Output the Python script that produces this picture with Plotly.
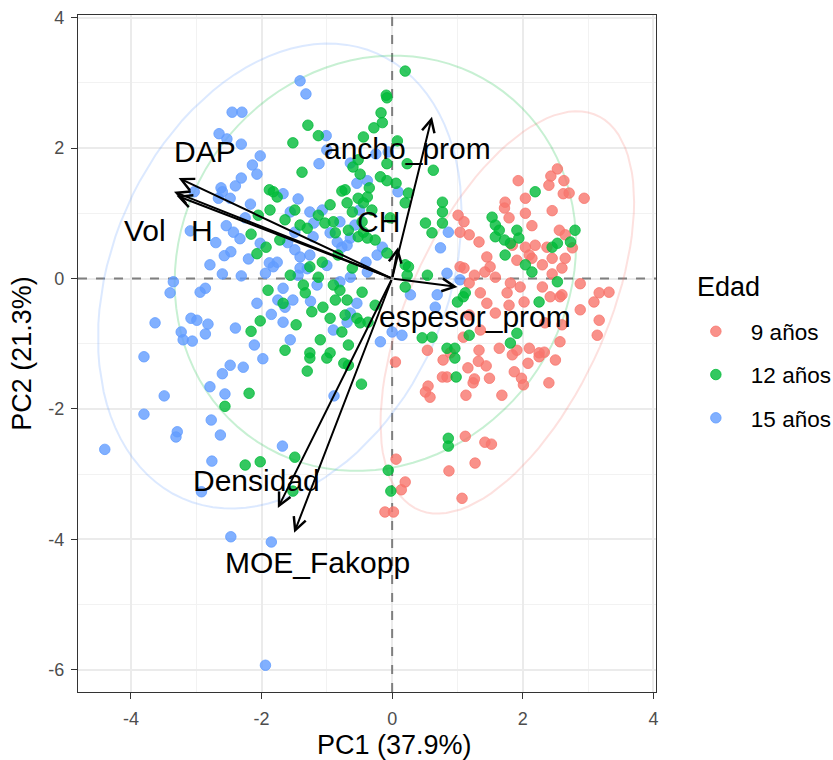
import numpy as np
import plotly.graph_objects as go

# ---- PCA scores (PC1, PC2) by age class ----
pc1_9 = [2.53, 2.43, 1.93, 2.63, 2.40, 2.62, 2.71, 2.94, 2.04, 1.73,
         1.72, 2.04, 2.45, 1.79, 1.10, 1.18, 1.33, 2.14, 2.56, 2.65,
         1.84, 2.04, 2.19, 2.37, 2.76, 1.45, 1.50, 1.91, 2.10, 2.14,
         2.45, 2.65, 1.10, 1.26, 1.58, 1.42, 2.30, 2.60, 2.45, 1.81,
         1.96, 2.30, 2.88, 3.17, 3.32, 3.09, 1.18, 1.35, 1.45, 1.76,
         1.79, 2.02, 2.42, 2.57, 2.60, 2.88, 3.17, 3.14, 1.58, 1.18,
         1.35, 2.60, 2.34, 2.57, 1.64, 1.33, 2.10, 2.33, 2.25, 1.91,
         1.04, 1.04, 1.01, 1.09, 0.54, 0.89,
         0.05, 0.78, 0.77, 0.84, 0.55, 0.51, 0.58, 0.06, 0.20, 0.14, 0.87, 1.07,
         1.16, 1.32, 1.44, 1.26, 1.24, 1.49, 1.13, 1.68, 1.87, 1.98,
         2.01, 2.08, 2.25, 2.50, 2.40, 1.84, 1.12, 1.42, 1.52, 1.27,
         -0.11, 0.02]
pc2_9 = [1.68, 1.57, 1.50, 1.50, 1.43, 1.30, 1.31, 1.23, 1.23, 1.17,
         1.08, 1.00, 1.04, 0.93, 0.87, 0.67, 0.56, 0.81, 0.74, 0.67,
         0.51, 0.48, 0.51, 0.48, 0.47, 0.33, 0.18, 0.28, 0.36, 0.31,
         0.31, 0.31, 0.16, 0.05, 0.02, 0.10, 0.21, 0.16, 0.07, -0.07,
         -0.13, -0.13, -0.08, -0.22, -0.21, -0.36, -0.07, -0.22, -0.38, -0.22,
         -0.41, -0.36, -0.28, -0.28, -0.25, -0.48, -0.64, -0.87, -0.53, -0.56,
         -0.79, -0.71, -0.68, -0.97, -1.07, -1.10, -1.07, -1.13, -1.14, -1.10,
         0.18, 0.71, 0.97, -0.90, -1.10, -1.14,
         -1.28, -1.25, -1.51, -1.51, -1.65, -1.74, -1.82, -2.77, -3.12, -3.24, -2.95, -3.37,
         -1.37, -1.27, -1.34, -1.54, -1.60, -1.53, -1.79, -1.79, -1.43, -1.53,
         -1.63, -1.30, -1.20, -1.25, -1.60, -1.17, -2.42, -2.51, -2.54, -2.83,
         -3.58, -3.58]

pc1_12 = [-1.88,
          0.20, -0.09, -0.08, -0.17, -0.15, -0.28, -1.29, -1.13, -0.44, -1.52,
          0.08, -0.08, -0.52, -0.60, -0.49, -0.18, -0.08, 0.06, 0.23, 0.63,
          -1.38, -0.77, -0.35, -0.38, 0.25, 0.77, -0.69, -0.44, -1.82, -1.76, 0.20,
          -2.16, -2.07, -1.93, -2.02, -2.16, -2.05, -1.87,
          -1.49, -1.64, -1.30, -1.03, -0.90, -0.87, -0.67, -0.52, -0.44, -0.38,
          -0.03, -0.08, 0.20, 0.25, 0.23, 0.20, -1.26, -1.13, -1.36, -1.33,
          -0.80, -0.87, -0.69, -1.06, -0.72, -0.54, -0.49, -0.37, -0.77, -1.67,
          0.51, 0.61, 0.77, 0.77, 0.54, 0.46, 0.61, -1.26, -0.95, 0.84, 0.96, 1.00, 1.09,
          1.53, 1.58, 1.64, 1.58, 1.72, 1.81, 1.91, 1.94, 1.73, 2.04, 2.14,
          2.45, 2.53, 2.73, 2.80, 2.53, 2.25, 1.12, 1.18, 1.91, 1.81,
          2.19,
          -2.19, -2.56, -2.25, -2.02,
          -1.26, -1.00, -1.30, -0.74, -0.67, -0.47, -1.49, -1.52, -0.06, -0.02,
          0.86, 0.86, 0.98, 0.96,
          -0.72, -0.52, -0.95, -0.61, -0.31, -1.13, -1.41, -0.46, -0.26, -0.83,
          -1.07, -0.61, -1.56, -0.90, -0.46, -1.23, -1.47, -0.95, -0.26, -1.10,
          -0.67, -1.64, -1.90, -1.72]
pc2_12 = [1.36,
          3.18, 2.81, 2.77, 2.54, 2.39, 2.31, 2.35, 2.19, 2.17, 2.08,
          2.11, 1.76, 1.82, 1.71, 1.60, 1.56, 1.50, 1.46, 1.76, 1.66,
          1.63, 1.34, 1.39, 1.25, 1.31, 1.17, 1.16, 1.16, 1.33, 1.25, 1.16,
          0.68, 0.38, 0.48, -0.65, -0.81, 0.97, 1.05,
          1.05, 0.90, 0.77, 0.85, 0.87, 0.70, 0.74, 0.64, 0.71, 0.62,
          0.93, 0.39, 0.21, 0.18, 0.05, -0.13, 0.18, 0.02, -0.10, -0.22,
          -0.18, -0.33, -0.33, -0.44, -0.56, -0.61, -0.68, -0.67, -0.82, -0.38,
          0.85, 0.70, 1.02, 0.85, 0.05, -0.91, -0.90, -1.14, -1.14, -1.07, -1.07, -0.36, -0.28,
          0.94, 0.82, 0.74, 0.64, 0.59, 0.54, 0.74, 0.62, 0.36, 0.21, 0.10,
          0.48, 0.54, 0.56, 0.74, -0.05, -0.36, -0.22, -0.87, -0.84, -0.99,
          1.33,
          -1.76, -1.96, -2.86, -2.81,
          -1.22, -1.22, -1.42, -1.30, -1.33, -1.62, -2.74, -3.26, -2.94, -3.26,
          -2.45, -2.57, -1.51, -1.22,
          1.36, 1.23, 1.13, 1.02, 1.05, 0.97, 0.82, 0.87, 0.59, 0.36,
          0.25, 0.16, 0.05, -0.10, -0.21, -0.51, -0.71, -0.61, -0.41, -0.94,
          -1.02, -1.10, -0.18, 0.59]

pc1_15 = [-2.45, -2.30, -2.65, -2.53, -2.31, -2.02, -2.14, -2.07, -2.31, -2.40,
          -2.62, -2.60, -3.03, -2.66, -2.48, -2.17,
          -1.41, -1.32, -1.01, -1.00, -1.12, -0.64, -0.25, -0.06, -0.54, -0.38,
          -1.67, -1.44, 0.09,
          -3.09, -2.54, -2.43, -2.33, -2.47, -2.57, -2.79, -2.60, -2.31, -1.94,
          -1.88, -2.02, -2.25,
          -3.35, -3.40, -2.94, -2.86, -2.07, -3.63, -3.08, -2.99, -2.82, -3.23,
          -2.86, -3.20, -3.06, -2.40, -2.11, -3.80,
          -1.26, -1.07, -1.56, -1.49, -1.21, -0.84, -0.77, -0.69, -0.64, -0.57,
          -0.80, -1.49, -1.41, -1.26, -1.76, -1.82, -1.41, -1.44, -0.64, -0.38,
          -0.23, -0.15,
          -1.15, -1.67, -1.75, -1.52, -1.64, -0.54, -0.64, -1.67, -0.90, -0.69,
          -1.56, -0.18, 0.00, 0.15, 0.28, 0.69, 0.66, 0.74, 0.84, 1.04, 0.86,
          -2.48, -2.28, -2.60, -1.98, -2.79, -2.56, -3.49, -3.80, -2.77, -3.29,
          -3.31, -2.63, -4.40, -2.76, -2.92,
          -0.89, -1.68,
          -2.47, -1.85, -1.94,
          -1.20, -0.95, -0.50, -1.30, -1.00, -0.80, -1.85, -1.25, -0.40, -2.70,
          -2.20, -1.60]
pc2_15 = [2.55, 2.55, 2.22, 2.14, 2.06, 1.88, 1.74, 1.60, 1.54, 1.42,
          1.39, 1.33, 1.33, 1.23, 1.23, 1.14,
          3.03, 2.83, 2.19, 1.97, 1.76, 1.77, 1.91, 1.94, 1.46, 1.50,
          1.30, 1.22, 1.33,
          0.73, 0.81, 0.71, 0.61, 0.41, 0.35, 0.21, 0.07, 0.04, 0.08,
          0.24, 0.54, 0.93,
          -0.05, -0.22, -0.21, -0.15, -0.38, -0.68, -0.61, -0.64, -0.70, -0.82,
          -0.85, -0.94, -0.96, -0.76, -1.02, -1.20,
          1.02, 1.05, 1.02, 0.71, 0.64, 0.56, 0.48, 0.51, 0.62, 0.82,
          0.87, 0.44, 0.33, 0.36, 0.25, 0.18, 0.16, 0.05, 0.02, 0.10,
          0.36, 0.48,
          -0.10, -0.15, -0.33, -0.33, -0.44, -0.38, -0.53, -0.67, -0.79, -0.67,
          -0.94, -0.97, -0.82, -0.87, -0.25, -0.25, -0.44, 0.47, 0.08, -0.02, 0.71,
          -1.33, -1.36, -1.46, -1.23, -1.66, -1.77, -1.80, -2.08, -2.17, -2.35,
          -2.43, -2.40, -2.62, -2.80, -3.27,
          -1.80, -2.57,
          -3.96, -4.04, -5.93,
          0.85, 0.70, 1.05, 0.15, 0.20, -0.05, -0.55, -0.35, 0.25, 0.55,
          0.30, 0.55]

groups = ["9 años", "12 años", "15 años"]
group_colors = ["#F8766D", "#00BA38", "#619CFF"]

# ---- variable loadings (arrow tips) and label anchors ----
var_names = ["DAP", "Vol", "H", "ancho_prom", "CH", "espesor_prom", "Densidad", "MOE_Fakopp"]
load_pc1 = [-3.27, -3.34, -3.30, 0.61, 0.09, 1.00, -1.75, -1.50]
load_pc2 = [1.54, 1.33, 1.27, 2.48, 0.48, -0.13, -3.52, -3.90]
label_pc1 = [-2.86, -3.78, -2.91, 0.23, -0.21, 1.27, -2.08, -1.15]
label_pc2 = [1.94, 0.74, 0.74, 2.00, 0.87, -0.58, -3.09, -4.36]

# ---- axes ----
x_range = [-4.81, 4.04]
y_range = [-6.34, 4.04]
x_ticks = [-4, -2, 0, 2, 4]
y_ticks = [-6, -4, -2, 0, 2, 4]
x_minor = [-3, -1, 1, 3]
y_minor = [-5, -3, -1, 1, 3]
x_title = "PC1 (37.9%)"
y_title = "PC2 (21.3%)"
legend_title = "Edad"

FONT = "Liberation Sans, Arial, Helvetica, sans-serif"


def norm_ellipse(x, y, level=0.95, segments=101):
    """Normal-theory confidence ellipse, as in ggplot2::stat_ellipse(type='norm')."""
    pts = np.column_stack([x, y])
    mu = pts.mean(axis=0)
    cov = np.cov(pts.T)
    d2 = len(x) - 1
    # quantile of F(2, d2), closed form
    fq = (d2 / 2.0) * ((1.0 - level) ** (-2.0 / d2) - 1.0)
    radius = np.sqrt(2.0 * fq)
    theta = np.linspace(0, 2 * np.pi, segments)
    circle = np.column_stack([np.cos(theta), np.sin(theta)])
    upper = np.linalg.cholesky(cov).T
    ell = mu + radius * circle @ upper
    return ell[:, 0], ell[:, 1]


def rgba(hex_color, a):
    h = hex_color.lstrip("#")
    r, g, b = int(h[0:2], 16), int(h[2:4], 16), int(h[4:6], 16)
    return f"rgba({r},{g},{b},{a})"


scores = [(pc1_9, pc2_9), (pc1_12, pc2_12), (pc1_15, pc2_15)]

fig = go.Figure()

# dashed reference axes through the origin (above the grid, below the points)
dash_line = dict(color="#7F7F7F", width=2, dash="dash")
fig.add_trace(go.Scatter(x=[0, 0], y=y_range, mode="lines", line=dash_line,
                         hoverinfo="skip", showlegend=False))
fig.add_trace(go.Scatter(x=x_range, y=[0, 0], mode="lines", line=dash_line,
                         hoverinfo="skip", showlegend=False))

# confidence ellipses
for (sx, sy), col in zip(scores, group_colors):
    ex, ey = norm_ellipse(np.array(sx), np.array(sy))
    fig.add_trace(go.Scatter(x=ex, y=ey, mode="lines",
                             line=dict(color=rgba(col, 0.22), width=2),
                             hoverinfo="skip", showlegend=False))

# individuals
for i in [2, 0, 1]:
    sx, sy = scores[i]
    fig.add_trace(go.Scatter(
        x=sx, y=sy, mode="markers", name=groups[i], legendrank=i + 1,
        legendgroup=groups[i],
        marker=dict(size=10.5, color=rgba(group_colors[i], 0.8),
                    line=dict(width=1, color=rgba(group_colors[i], 0.8))),
    ))

# variable arrows
for vx, vy in zip(load_pc1, load_pc2):
    fig.add_annotation(x=vx, y=vy, ax=0, ay=0, xref="x", yref="y",
                       axref="x", ayref="y", text="", showarrow=True,
                       arrowhead=5, arrowsize=1.25, arrowwidth=2,
                       arrowcolor="black", standoff=0, startstandoff=0)

# variable labels
for name, lx, ly in zip(var_names, label_pc1, label_pc2):
    fig.add_annotation(x=lx, y=ly, xref="x", yref="y", text=name,
                       showarrow=False, font=dict(size=30, color="black", family=FONT))

axis_common = dict(
    showgrid=True, gridcolor="#EBEBEB", gridwidth=1.6,
    zeroline=False, showline=True, mirror=True, linecolor="#333333", linewidth=1.2,
    ticks="outside", ticklen=6, tickwidth=1.2, tickcolor="#333333",
    automargin=False,
    tickfont=dict(size=18, color="#4D4D4D", family=FONT),
    title_font=dict(size=27, color="black", family=FONT),
)

fig.update_xaxes(range=x_range, tickvals=x_ticks, ticktext=[str(v) for v in x_ticks],
                 ticklabelstandoff=4,
                 minor=dict(tickvals=x_minor, showgrid=True,
                            gridcolor="#F2F2F2", gridwidth=1, ticks=""),
                 **axis_common)
fig.update_yaxes(range=y_range, tickvals=y_ticks, ticktext=[str(v) for v in y_ticks],
                 ticklabelstandoff=3,
                 minor=dict(tickvals=y_minor, showgrid=True,
                            gridcolor="#F2F2F2", gridwidth=1, ticks=""),
                 title=dict(text=y_title, standoff=8), **axis_common)

# x-axis title
fig.add_annotation(x=0.547, y=-0.078, xref="paper", yref="paper", xanchor="center",
                   yanchor="middle", text=x_title, showarrow=False,
                   font=dict(size=27, color="black", family=FONT))

# legend title as its own text so the spacing to the keys can be set
fig.add_annotation(x=1.067, y=0.598, xref="paper", yref="paper", xanchor="left",
                   yanchor="middle", text=legend_title, showarrow=False,
                   font=dict(size=27, color="black", family=FONT))

fig.update_layout(
    width=833, height=760,
    margin=dict(l=78, r=177, t=15, b=68, autoexpand=False),
    plot_bgcolor="white", paper_bgcolor="white",
    font=dict(family=FONT, color="black"),
    legend=dict(font=dict(size=22.5), x=1.043, y=0.564, xanchor="left", yanchor="top",
                tracegroupgap=11, itemsizing="trace", itemwidth=60),
)

fig.write_html("out.html")
